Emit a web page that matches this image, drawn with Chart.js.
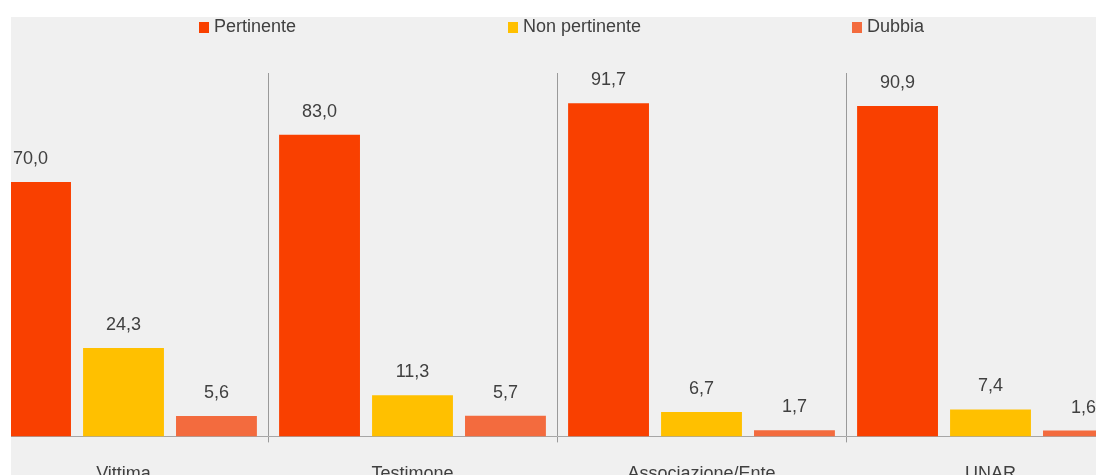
<!DOCTYPE html>
<html>
<head>
<meta charset="utf-8">
<title>Segnalazioni per fonte</title>
<script src="https://cdn.jsdelivr.net/npm/chart.js@4/dist/chart.umd.min.js"></script>
<style>
    body {
        margin: 0;
        background: #fff;
        font-family: "Liberation Sans", Arial, sans-serif;
    }
    #panel {
        position: absolute;
        left: 11px;
        top: 17px;
        width: 1085px;
        height: 458px;
        overflow: hidden;
        background: #f0f0f0;
    }
    #chart-box {
        position: absolute;
        left: -32px;
        top: 0;
        width: 1156px;
        height: 489px;
    }
    .legend-item {
        position: absolute;
        top: 0;
        font-size: 18px;
        line-height: 18px;
        color: #404040;
        white-space: nowrap;
    }
    .legend-item span {
        display: inline-block;
        width: 10px;
        height: 11px;
        margin-right: 5px;
        vertical-align: -1px;
    }
</style>
</head>
<body>
<div id="panel">
    <div id="chart-box"><canvas id="source-chart"></canvas></div>
</div>
<div id="legend"></div>
<script>
const categories = ["Vittima", "Testimone", "Associazione/Ente", "UNAR"];
const seriesNames = ["Pertinente", "Non pertinente", "Dubbia"];
const pertinente = [70.0, 83.0, 91.7, 90.9];
const nonPertinente = [24.3, 11.3, 6.7, 7.4];
const dubbia = [5.6, 5.7, 1.7, 1.6];
const colors = ["#f94000", "#ffc000", "#f36b3e"];

// legend sits above the plot, items spread across the width
const legendX = [199, 508, 852];
let legend = document.getElementById("legend");
seriesNames.forEach((name, i) => {
    let item = document.createElement("div");
    item.className = "legend-item";
    item.style.left = legendX[i] + "px";
    item.style.top = "17px";
    let swatch = document.createElement("span");
    swatch.style.background = colors[i];
    item.appendChild(swatch);
    item.appendChild(document.createTextNode(name));
    legend.appendChild(item);
});

// value above each bar, Italian decimal comma
const valueLabels = {
    id: "valueLabels",
    afterDatasetsDraw(chart) {
        let ctx = chart.ctx;
        ctx.save();
        ctx.font = "18px 'Liberation Sans', Arial, sans-serif";
        ctx.fillStyle = "#404040";
        ctx.textAlign = "center";
        ctx.textBaseline = "middle";
        chart.data.datasets.forEach((ds, i) => {
            chart.getDatasetMeta(i).data.forEach((bar, j) => {
                let text = ds.data[j].toFixed(1).replace(".", ",");
                ctx.fillText(text, bar.x, bar.y - 23);
            });
        });
        ctx.restore();
    }
};

let ctx = document.getElementById("source-chart").getContext("2d");
let sourceChart = new Chart(ctx, {
    type: "bar",
    data: {
        labels: categories,
        datasets: [pertinente, nonPertinente, dubbia].map((values, i) => ({
            label: seriesNames[i],
            data: values,
            backgroundColor: colors[i],
            borderWidth: 0,
            categoryPercentage: 0.965,
            barPercentage: 0.87,
        })),
    },
    options: {
        responsive: true,
        maintainAspectRatio: false,
        animation: false,
        layout: { padding: { top: 56, left: 0, right: 0, bottom: 0 } },
        plugins: {
            legend: { display: false },
            tooltip: { enabled: false },
        },
        scales: {
            x: {
                grid: {
                    offset: true,
                    color: "#9a9a9a",
                    lineWidth: 1,
                    tickLength: 6,
                },
                border: { color: "#a6a6a6", width: 1 },
                ticks: {
                    color: "#404040",
                    padding: 21,
                    font: { family: "'Liberation Sans', Arial, sans-serif", size: 18 },
                },
            },
            y: {
                display: false,
                min: 0,
                max: 100,
            },
        },
    },
    plugins: [valueLabels],
});
</script>
</body>
</html>
